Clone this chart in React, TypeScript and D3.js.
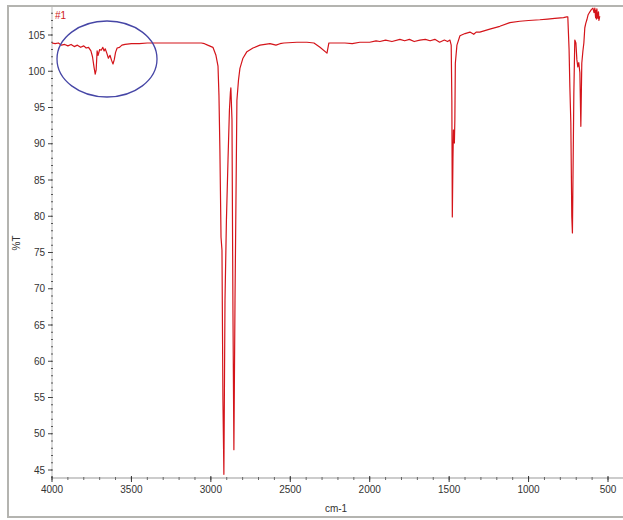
import { scaleLinear, line, range } from 'd3'

// spectrum: wavenumber (cm-1) and %T
const wavenumber = [
  4000, 3980, 3960, 3940, 3920, 3900, 3880, 3860, 3840, 3820, 3800, 3785, 3770, 3755, 3745, 3735,
  3728, 3722, 3716, 3710, 3700, 3690, 3680, 3672, 3665, 3655, 3645, 3635, 3625, 3616, 3608, 3600,
  3590, 3575, 3560, 3540, 3500, 3450, 3400, 3350, 3300, 3250, 3200, 3150, 3100, 3060, 3040, 3020,
  2987, 2968, 2955, 2949, 2943, 2936, 2930, 2924, 2918, 2911, 2902, 2892, 2883, 2877, 2874, 2867,
  2861, 2855, 2848, 2842, 2836, 2826, 2817, 2798, 2773, 2735, 2691, 2628, 2590, 2565, 2540, 2458,
  2395, 2351, 2313, 2269, 2257, 2210, 2156, 2110, 2062, 2000, 1960, 1936, 1900, 1860, 1810, 1780,
  1750, 1720, 1684, 1650, 1620, 1590, 1560, 1530, 1510, 1495, 1487, 1483, 1480, 1476, 1473, 1467,
  1464, 1461, 1451, 1432, 1400, 1369, 1345, 1330, 1307, 1244, 1181, 1118, 1055, 1000, 929, 880,
  835, 780, 760, 753, 745, 740, 734, 728, 724, 718, 715, 709, 702, 696, 690, 684, 677, 671, 665,
  658, 652, 646, 640, 633, 625, 614, 605, 595, 588, 583, 578, 576, 573, 570, 567, 564, 560, 557, 552,
]
const transmittance = [
  103.9, 103.8, 103.9, 103.6, 103.7, 103.5, 103.7, 103.4, 103.6, 103.3, 103.5, 103.2, 103.3, 102.8, 102.0, 100.5,
  99.6, 100.2, 102.8, 102.2, 103.0, 102.9, 103.3, 102.8, 103.1, 102.5, 101.8, 102.2, 101.5, 101.0, 101.6, 102.6,
  103.2, 103.3, 103.6, 103.7, 103.8, 103.8, 103.9, 103.9, 103.9, 103.9, 103.9, 103.9, 103.9, 103.9, 103.8, 103.6,
  103.3, 102.2, 100.7, 96.7, 89.0, 77.1, 75.3, 54.7, 44.4, 68.4, 79.5, 87.8, 94.7, 97.1, 97.7, 93.3,
  67.1, 47.8, 68.4, 82.2, 96.0, 98.8, 100.4, 101.8, 102.7, 103.2, 103.6, 103.8, 103.6, 103.8, 103.9, 104.0,
  104.0, 103.9, 103.3, 102.5, 103.9, 103.9, 103.9, 103.8, 104.0, 104.0, 104.2, 104.1, 104.3, 104.1, 104.4, 104.2,
  104.4, 104.1, 104.3, 104.4, 104.2, 104.4, 104.0, 104.3, 104.1, 104.3, 103.6, 96.0, 79.9, 88.0, 91.9, 90.1,
  93.3, 101.1, 103.6, 104.9, 105.2, 105.4, 105.1, 105.4, 105.4, 105.8, 106.2, 106.7, 106.9, 107.0, 107.1, 107.2,
  107.3, 107.4, 107.5, 107.5, 103.0, 97.8, 92.9, 80.0, 77.7, 90.5, 97.0, 104.3, 103.9, 101.6, 100.6, 101.2, 99.8, 92.4, 101.1,
  102.8, 103.9, 106.0, 106.6, 107.1, 107.8, 108.2, 108.5, 108.7, 108.1, 108.7, 107.4, 108.4, 107.2, 108.6, 107.6, 107.3, 108.2, 107.0, 107.6,
]

const xTicks = [4000, 3500, 3000, 2500, 2000, 1500, 1000, 500]
const yTicks = [45, 50, 55, 60, 65, 70, 75, 80, 85, 90, 95, 100, 105]

const W = 623
const H = 520
const left = 52
const top = 7
const bottom = 478

const x = scaleLinear().domain([4000, 500]).range([left, 608])
const y = scaleLinear().domain([105, 45]).range([35, 470])

const path = line<number>()
  .x((_, i) => x(wavenumber[i]))
  .y(d => y(d))

const font = 'Liberation Sans, Arial, sans-serif'

function App() {
  const minorX = range(4000, 399, -100)
  const minorY = range(44, 109, 1)
  return (
    <svg width={W} height={H} style={{ position: 'absolute', left: 0, top: 0, background: '#fff' }}>
      <rect x={8} y={6} width={640} height={511} fill="#fff" stroke="#b4b4b0" strokeWidth={2} />

      {/* y axis */}
      <line x1={left} x2={left} y1={top} y2={bottom} stroke="#bbb" strokeWidth={1} />
      {minorY.map(v => (
        <line key={'my' + v} x1={left - 1} x2={left + 1} y1={y(v)} y2={y(v)} stroke="#555" strokeWidth={1} />
      ))}
      {yTicks.map(v => (
        <g key={'y' + v}>
          <line x1={left - 4} x2={left} y1={y(v)} y2={y(v)} stroke="#444" strokeWidth={1} />
          <text x={left - 7} y={y(v)} dy="0.35em" textAnchor="end" fontSize={10} fill="#333" fontFamily={font}>
            {v}
          </text>
        </g>
      ))}

      {/* x axis */}
      <line x1={left} x2={623} y1={bottom} y2={bottom} stroke="#999" strokeWidth={1} />
      {minorX.map(v => (
        <line key={'mx' + v} x1={x(v)} x2={x(v)} y1={bottom - 1} y2={bottom + 2} stroke="#666" strokeWidth={1} />
      ))}
      {xTicks.map(v => (
        <g key={'x' + v}>
          <line x1={x(v)} x2={x(v)} y1={bottom - 2} y2={bottom + 4} stroke="#333" strokeWidth={1} />
          <text x={x(v)} y={bottom + 15} textAnchor="middle" fontSize={10} fill="#333" fontFamily={font}>
            {v}
          </text>
        </g>
      ))}

      <text x={336} y={512} textAnchor="middle" fontSize={10} fill="#333" fontFamily={font}>cm-1</text>
      <text transform="translate(20,243) rotate(-90)" textAnchor="middle" fontSize={10} fill="#333" fontFamily={font}>%T</text>
      <text x={55} y={19} fontSize={10} fill="#d02020" fontFamily={font}>#1</text>

      <path d={path(transmittance) ?? ''} fill="none" stroke="#d4141a" strokeWidth={1.2} strokeLinejoin="round" />

      <ellipse cx={107} cy={59} rx={50} ry={38} fill="none" stroke="#4646a6" strokeWidth={1.3} />
    </svg>
  )
}

export default App
